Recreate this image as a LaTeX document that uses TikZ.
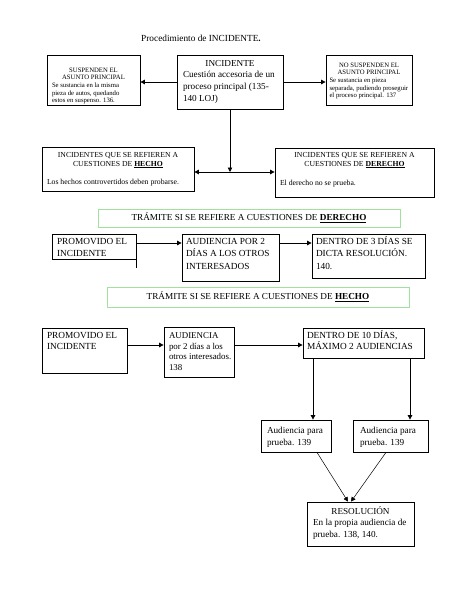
\documentclass[tikz,border=0pt]{standalone}
\usepackage{fontspec}
\setmainfont{Liberation Serif}
\usetikzlibrary{arrows.meta}
\newcommand{\fsz}[2]{\fontsize{#1}{#2}\selectfont}
\newcommand{\bt}[6]{\parbox[c][#2][t]{#1}{\fsz{#4}{#5}\raggedright\vspace*{\dimexpr#3-8.5pt\relax}\rule{0pt}{8.5pt}#6}}
\definecolor{lgreen}{RGB}{160,225,160}
\tikzset{
  bx/.style={draw, line width=0.8pt, inner sep=0pt, rectangle},
  gbox/.style={draw=lgreen, line width=0.6pt, inner sep=0pt, rectangle, font=\fsz{9.2}{11}},
  arr/.style={line width=0.8pt, -{Triangle[length=4.5pt,width=4.5pt]}},
  arrthin/.style={line width=0.5pt, -{Triangle[length=4.5pt,width=4.5pt]}},
}
\begin{document}
\begin{tikzpicture}[x=1pt,y=-1pt]
\useasboundingbox[fill=white] (0,0) rectangle (474,613);

\node[font=\fsz{9.3}{11}] (title) at (201,38) {Procedimiento de INCIDENTE\textbf{.}};

% top row
\node[bx, minimum width=93pt, minimum height=50pt] (susp) at (93.5,80)
  {\bt{83pt}{50pt}{17.2pt}{6.7}{7.6}{{\centering SUSPENDEN EL\\ASUNTO PRINCIPAL\par}Se sustancia en la misma\\pieza de autos, quedando\\estos en suspenso. 136.}};
\node[bx, minimum width=106pt, minimum height=54pt] (inc) at (230,82)
  {\bt{94pt}{54pt}{11pt}{9.2}{11.9}{{\centering INCIDENTE\par}Cuestión accesoria de un\\proceso principal (135-\\140 LOJ)}};
\node[bx, minimum width=86pt, minimum height=50pt] (nosusp) at (369,80)
  {\bt{79pt}{50pt}{12.2pt}{6.7}{7.6}{{\centering NO SUSPENDEN EL\\ASUNTO PRINCIPAL\par}Se sustancia en pieza\\separada, pudiendo proseguir\\el proceso principal. 137}};

\draw[arr] (inc.west) -- (susp.east |- inc.west);
\draw[arr] (inc.east) -- (nosusp.west |- inc.east);

% second row
\node[bx, minimum width=152pt, minimum height=44pt] (hecho) at (118,169)
  {\bt{142pt}{44pt}{10.5pt}{7.7}{8.5}{{\centering INCIDENTES QUE SE REFIEREN A\\CUESTIONES DE \textbf{\underline{HECHO}}\par}\vspace{10pt}Los hechos controvertidos deben probarse.}};
\node[bx, minimum width=159pt, minimum height=49pt] (derecho) at (354.5,172.5)
  {\bt{149pt}{49pt}{9.5pt}{7.7}{8.5}{{\centering INCIDENTES QUE SE REFIEREN A\\CUESTIONES DE \textbf{\underline{DERECHO}}\par}\vspace{11pt}El derecho no se prueba.}};

\coordinate (jy) at (0,172);
\coordinate (j) at (inc.south |- jy);
\draw[arr] (inc.south) -- (j);
\draw[arr] (j) -- (hecho.east |- j);
\draw[arr] (j) -- (derecho.west |- j);

% derecho procedure
\node[gbox, minimum width=302pt, minimum height=18pt] (g1) at (249,218)
  {TRÁMITE SI SE REFIERE A CUESTIONES DE \textbf{\underline{DERECHO}}};

\node[bx, minimum width=84pt, minimum height=25pt] (prom1) at (94,246.5)
  {\bt{74pt}{25pt}{10pt}{9.3}{12}{PROMOVIDO EL\\INCIDENTE}};
\draw[line width=0.8pt] (prom1.south east) -- ++(0,9);
\node[bx, minimum width=97pt, minimum height=47pt] (aud1) at (230.5,257.5)
  {\bt{89pt}{47pt}{10pt}{9.3}{12.5}{AUDIENCIA POR 2\\DÍAS A LOS OTROS\\INTERESADOS}};
\node[bx, minimum width=113pt, minimum height=44pt] (dentro1) at (368.5,256)
  {\bt{105pt}{44pt}{10pt}{9.3}{12.5}{DENTRO DE 3 DÍAS SE\\DICTA RESOLUCIÓN.\\140.}};

\coordinate (r3) at (0,243);
\draw[arr] (prom1.east |- r3) -- (aud1.west |- r3);
\draw[arr] (aud1.east |- r3) -- (dentro1.west |- r3);

% hecho procedure
\node[gbox, minimum width=302pt, minimum height=20pt] (g2) at (258,297)
  {TRÁMITE SI SE REFIERE A CUESTIONES DE \textbf{\underline{HECHO}}};

\node[bx, minimum width=85pt, minimum height=45pt] (prom2) at (84.5,350.5)
  {\bt{75pt}{45pt}{10pt}{9.3}{11}{PROMOVIDO EL\\INCIDENTE}};
\node[bx, minimum width=70pt, minimum height=50pt] (aud2) at (199,352)
  {\bt{60pt}{50pt}{11.5pt}{8.9}{10.7}{AUDIENCIA\\por 2 días a los\\\mbox{otros interesados.}\\138}};
\node[bx, minimum width=121pt, minimum height=30pt] (dentro2) at (363.5,343)
  {\bt{113pt}{30pt}{10pt}{9.3}{11}{DENTRO DE 10 DÍAS,\\MÁXIMO 2 AUDIENCIAS}};

\coordinate (r4) at (0,345);
\draw[arr] (prom2.east |- r4) -- (aud2.west |- r4);
\draw[arr] (aud2.east |- r4) -- (dentro2.west |- r4);

\node[bx, minimum width=70pt, minimum height=32pt] (ap1) at (296,436)
  {\bt{58pt}{32pt}{13pt}{9.2}{12}{Audiencia para\\prueba. 139}};
\node[bx, minimum width=75pt, minimum height=32pt] (ap2) at (390.5,436)
  {\bt{61pt}{32pt}{13pt}{9.2}{12}{Audiencia para\\prueba. 139}};

\coordinate (vl) at (313,0);
\coordinate (vr) at (410,0);
\draw[arr] (dentro2.south -| vl) -- (ap1.north -| vl);
\draw[arr] (dentro2.south -| vr) -- (ap2.north -| vr);

\node[bx, minimum width=107pt, minimum height=44pt] (res) at (360.5,524)
  {\bt{95pt}{44pt}{12pt}{9.2}{11.5}{{\centering RESOLUCIÓN\par}En la propia audiencia de\\prueba. 138, 140.}};

\coordinate (d1) at (317,0);
\coordinate (d2) at (386,0);
\coordinate (t1) at (348,0);
\coordinate (t2) at (351,0);
\draw[arrthin] (ap1.south -| d1) -- (res.north -| t1);
\draw[arrthin] (ap2.south -| d2) -- (res.north -| t2);
\end{tikzpicture}
\end{document}
